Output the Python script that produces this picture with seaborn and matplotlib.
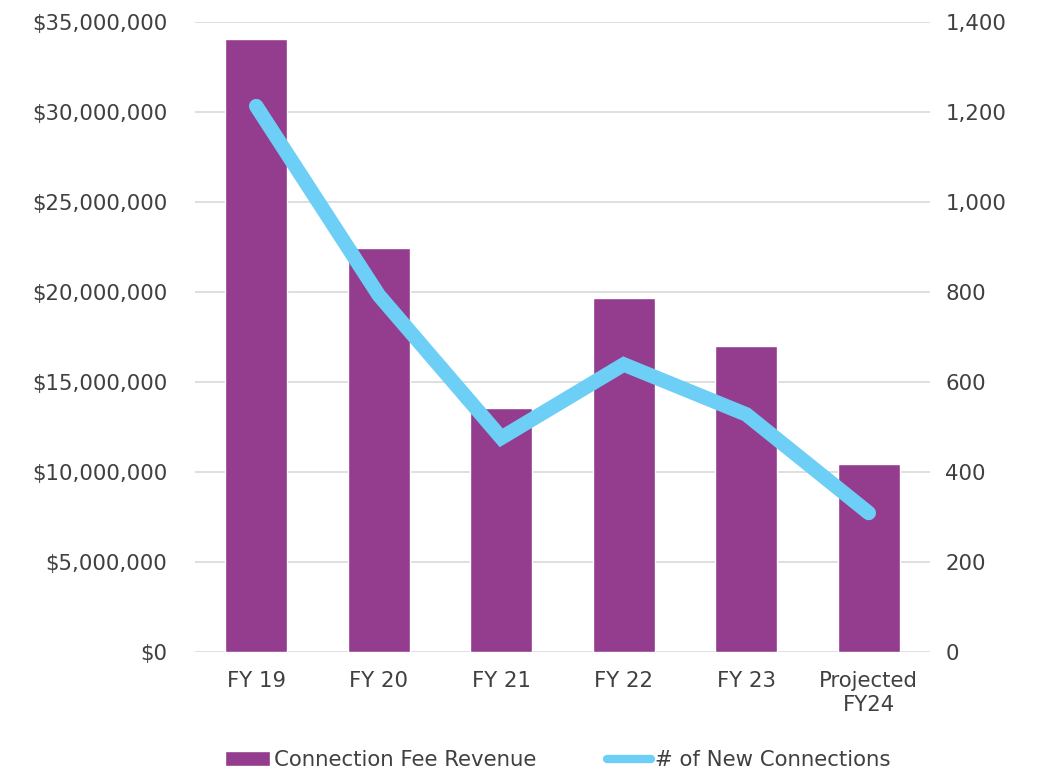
import matplotlib
matplotlib.use("Agg")
import matplotlib.pyplot as plt
import matplotlib.ticker as mticker
import seaborn as sns
import pandas as pd
from matplotlib.patches import Patch
from matplotlib.lines import Line2D

categories = ["FY 19", "FY 20", "FY 21", "FY 22", "FY 23", "Projected\nFY24"]
revenue = [34060000, 22450000, 13580000, 19640000, 17000000, 10460000]
connections = [1213, 793, 476, 639, 528, 309]

bar_color = "#943c8e"
line_color = "#6dcff6"
text_color = "#404040"

sns.set_theme(style="white")
plt.rcParams["font.family"] = ["DejaVu Sans"]

df = pd.DataFrame({"cat": categories, "rev": revenue, "conn": connections})

fig = plt.figure(figsize=(10.41, 7.70), dpi=100)
ax = fig.add_axes([195/1041, 1-652/770, (930-195)/1041, (652-22)/770])
sns.barplot(data=df, x="cat", y="rev", color=bar_color, width=0.51, ax=ax,
            saturation=1, zorder=2)
ax.set_ylim(0, 35000000)
ax.set_yticks(range(0, 35000001, 5000000))
ax.yaxis.set_major_formatter(mticker.FuncFormatter(lambda v, p: f"${v:,.0f}"))
ax.grid(axis="y", color="#d9d9d9", linewidth=1.2, zorder=0)
ax.set_axisbelow(True)
ax.set_xlabel("")
ax.set_ylabel("")
for s in ax.spines.values():
    s.set_visible(False)
ax.tick_params(axis="y", length=0, labelsize=15.3, colors=text_color, pad=20)
ax.tick_params(axis="x", length=0, labelsize=15.3, colors=text_color, pad=14)
ax.set_xlim(-0.5, 5.5)

ax2 = ax.twinx()
sns.lineplot(data=df, x="cat", y="conn", color=line_color, linewidth=10.5,
             solid_capstyle="round", solid_joinstyle="miter", ax=ax2, sort=False)
ax2.set_ylim(0, 1400)
ax2.set_yticks(range(0, 1401, 200))
ax2.yaxis.set_major_formatter(mticker.FuncFormatter(lambda v, p: f"{v:,.0f}"))
ax2.set_ylabel("")
ax2.set_xlabel("")
for s in ax2.spines.values():
    s.set_visible(False)
ax2.tick_params(axis="y", length=0, labelsize=15.3, colors=text_color, pad=11)
ax2.grid(False)

handles = [Patch(facecolor=bar_color, label="Connection Fee Revenue"),
           Line2D([0], [0], color=line_color, linewidth=6, solid_capstyle="round",
                  label="# of New Connections")]
fig.legend(handles=handles, loc="center", bbox_to_anchor=(558/1041, 1-760/770),
           ncol=2, frameon=False, fontsize=15.3, handlelength=2.1,
           handletextpad=0.2, columnspacing=3.3, labelcolor=text_color)

fig.savefig("out.png", dpi=100, facecolor="white")
